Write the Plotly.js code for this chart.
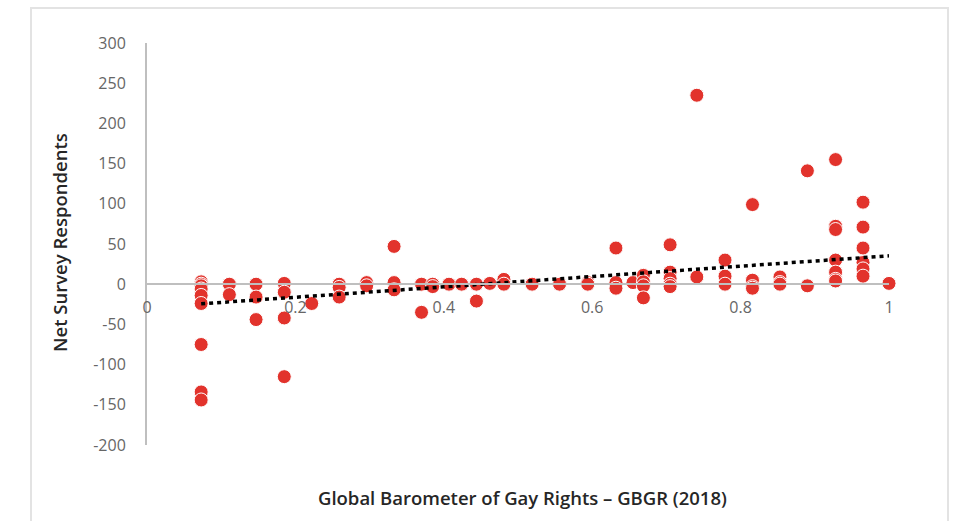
<!DOCTYPE html>
<html>
<head>
<meta charset="utf-8">
<script src="https://cdn.plot.ly/plotly-3.0.1.min.js"></script>
<style>html,body{margin:0;padding:0;background:#fff;}#chart{width:957px;height:521px;}</style>
</head>
<body>
<div id="chart"></div>
<script>
// GBGR score (x) and net survey respondents (y)
const gbgr = [
  0.073,0.073,0.073,0.073,0.073,0.073,0.073,0.073,0.073,
  0.111,0.111,
  0.147,0.147,0.147,
  0.185,0.185,0.185,0.185,
  0.222,
  0.259,0.259,0.259,
  0.296,0.296,
  0.333,0.333,0.333,
  0.370,0.370,
  0.385,0.385,
  0.407,
  0.424,
  0.444,0.444,
  0.462,
  0.481,0.481,
  0.519,
  0.556,
  0.594,0.594,
  0.632,0.632,0.632,
  0.655,
  0.669,0.669,0.669,0.669,
  0.705,0.705,0.705,0.705,0.705,
  0.741,0.741,
  0.779,0.779,0.779,
  0.816,0.816,0.816,0.816,
  0.853,0.853,0.853,
  0.890,0.890,
  0.928,0.928,0.928,0.928,0.928,0.928,0.928,
  0.965,0.965,0.965,0.965,0.965,0.965,
  1.0
];
const netRespondents = [
  3,0,-2,-6,-14,-24,-75,-134,-144,
  0,-13,
  0,-16,-44,
  1,-10,-42,-115,
  -24,
  0,-4,-16,
  2,-2,
  47,2,-7,
  0,-35,
  0,-3,
  0,
  0,
  0,-21,
  1,
  6,0,
  0,
  0,
  2,0,
  45,2,-5,
  2,
  11,3,-2,-17,
  49,15,7,0,-3,
  235,9,
  30,10,0,
  99,5,-3,-5,
  9,2,0,
  141,-2,
  155,72,68,30,15,6,4,
  102,71,45,27,19,10,
  1
];
// linear trendline as drawn in the reference (read at its two ends)
const trendX = [0.073, 1.0];
const trendY = [-24.4, 35.3];

const yTicks = [-200,-150,-100,-50,0,50,100,150,200,250,300];
const yTickText = ["-200","-150","-100","-50","0","50","100","150","200","250","300"];
const xTicks = [0,0.2,0.4,0.6,0.8,1];
const xTickText = ["0","0.2","0.4","0.6","0.8","1"];

const traces = [
  {
    type:'scatter', mode:'markers', x:gbgr, y:netRespondents,
    marker:{color:'#e2332c', size:14, line:{color:'#ffffff', width:1}},
    cliponaxis:false, hoverinfo:'x+y'
  },
  {
    type:'scatter', mode:'lines', x:trendX, y:trendY,
    line:{color:'#000000', width:3.5, dash:'4px,4px'},
    hoverinfo:'skip'
  }
];

const tickFont = {family:'"Open Sans", "Noto Sans", sans-serif', size:16, color:'#666666'};
const titleFont = {family:'"Open Sans", "Noto Sans", sans-serif', size:18.5, color:'#262626', weight:600};
const layout = {
  width:957, height:521,
  margin:{l:147, r:68, t:43, b:76, pad:0},
  paper_bgcolor:'#ffffff', plot_bgcolor:'#ffffff',
  showlegend:false,
  font:{family:'"Open Sans", "Noto Sans", sans-serif'},
  xaxis:{
    range:[0,1], tickvals:xTicks, ticktext:xTickText,
    anchor:'free', position:(0-(-200))/(300-(-200)),
    showline:true, linecolor:'#bfbfbf', linewidth:2,
    showgrid:false, zeroline:false, ticks:'',
    tickfont:tickFont, ticklabelstandoff:9
  },
  yaxis:{
    range:[-200,300], tickvals:yTicks, ticktext:yTickText,
    showline:true, linecolor:'#bfbfbf', linewidth:2,
    showgrid:false, zeroline:false, ticks:'',
    tickfont:tickFont, ticklabelstandoff:16
  },
  annotations:[
    {text:'Global Barometer of Gay Rights – GBGR (2018)', xref:'paper', yref:'paper',
     x:(522-147)/742, y:(445-497)/402, xanchor:'center', yanchor:'middle', showarrow:false,
     font:titleFont},
    {text:'Net Survey Respondents', xref:'paper', yref:'paper',
     x:(60-147)/742, y:(445-243)/402, xanchor:'center', yanchor:'middle', textangle:-90, showarrow:false,
     font:titleFont}
  ],
  shapes:[
    {type:'rect', xref:'paper', yref:'paper',
     x0:(31-147)/742, x1:(948-147)/742, y0:(445-540)/402, y1:(445-8)/402,
     line:{color:'#e3e3e3', width:2}, fillcolor:'rgba(0,0,0,0)', layer:'below'}
  ]
};
Plotly.newPlot('chart', traces, layout, {displayModeBar:false, staticPlot:true});
</script>
</body>
</html>
